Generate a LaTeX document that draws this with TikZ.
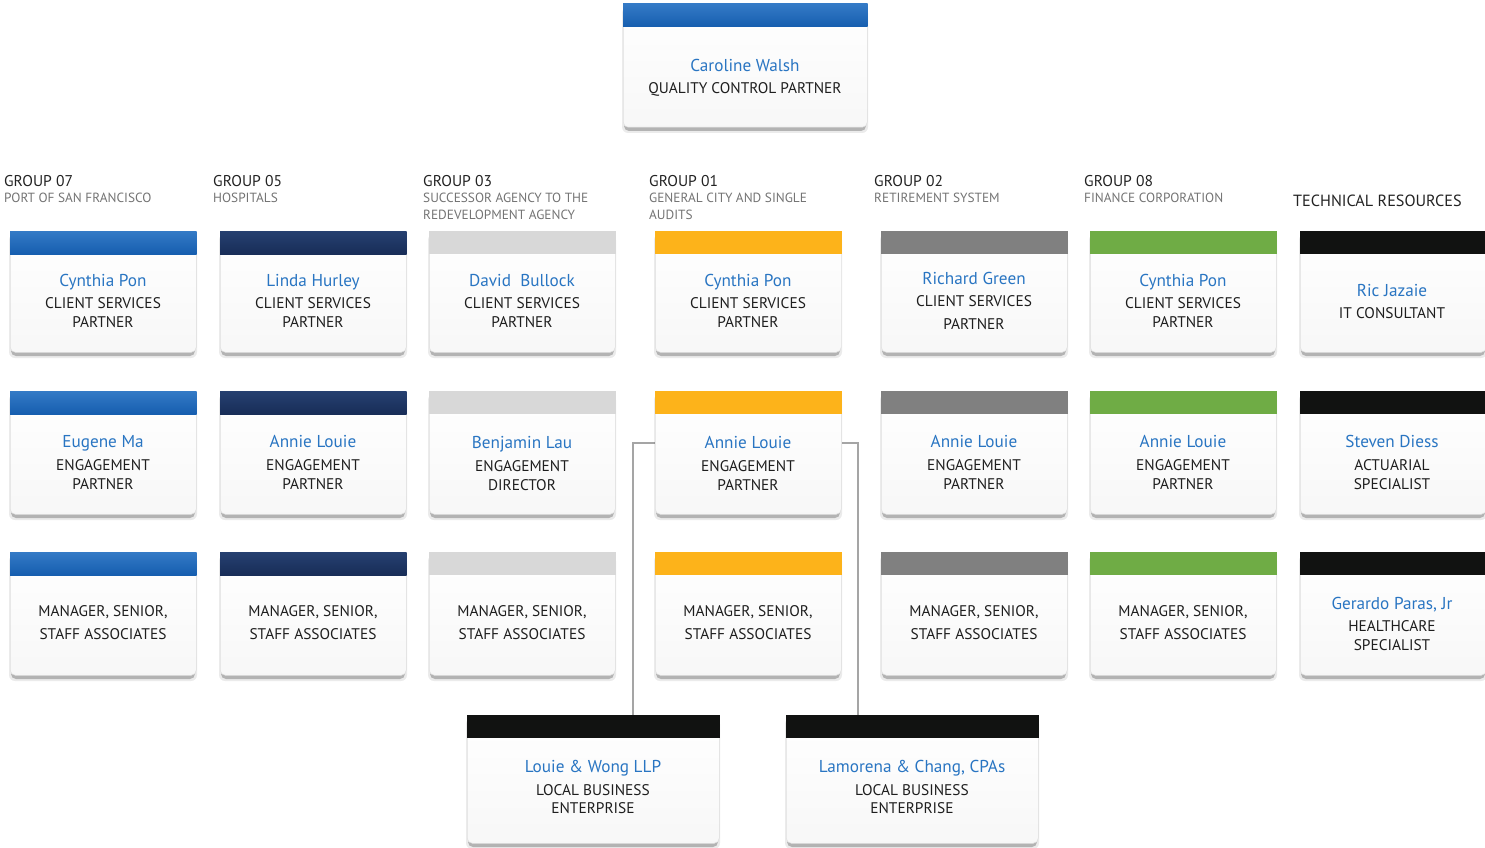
\documentclass[tikz,border=0pt]{standalone}
\usepackage{fontspec}
\setmainfont{PT Sans}
\usetikzlibrary{calc}
\pgfdeclarelayer{bg}
\pgfsetlayers{bg,main}
\definecolor{namecol}{RGB}{41,117,194}
\definecolor{rolecol}{RGB}{30,30,30}
\definecolor{hdcol}{RGB}{35,35,35}
\definecolor{subcol}{RGB}{115,115,115}
\definecolor{connc}{RGB}{165,165,165}
\definecolor{bluetop}{RGB}{52,122,198}
\definecolor{bluebot}{RGB}{22,94,175}
\definecolor{navytop}{RGB}{38,64,112}
\definecolor{navybot}{RGB}{24,45,88}
\definecolor{lgraybar}{RGB}{216,216,216}
\definecolor{orangebar}{RGB}{253,179,26}
\definecolor{graybar}{RGB}{128,128,128}
\definecolor{greenbar}{RGB}{111,172,69}
\definecolor{blackbar}{RGB}{17,18,17}
\tikzset{
  cardbody/.style={draw=black!13, line width=0.5pt, rounded corners=5pt,
    top color=white, middle color=white, bottom color=black!3,
    inner sep=0pt, anchor=north west},
  namelbl/.style={font=\fontsize{17.2}{20}\selectfont, text=namecol, inner sep=0pt, anchor=base},
  rolelbl/.style={font=\fontsize{15.4}{19}\selectfont, text=rolecol, align=center, inner sep=0pt},
  grouphd/.style={font=\fontsize{15.6}{17}\selectfont, text=hdcol, anchor=base west, inner sep=0pt},
  groupsub/.style={font=\fontsize{13.3}{15}\selectfont, text=subcol, anchor=base west, inner sep=0pt},
  conn/.style={draw=connc, line width=1.3pt},
  barblue/.style={top color=bluetop, bottom color=bluebot},
  barnavy/.style={top color=navytop, bottom color=navybot},
  barlgray/.style={fill=lgraybar},
  barorange/.style={fill=orangebar},
  bargray/.style={fill=graybar},
  bargreen/.style={fill=greenbar},
  barblack/.style={fill=blackbar},
}
% id, left x, top y, width, height, bar style
\newcommand{\orgcard}[6]{%
  \fill[black, opacity=0.08, rounded corners=6pt] ({#2-1},{#3+3}) rectangle ({#2+#4+1},{#3+#5+6});
  \fill[black, opacity=0.24, rounded corners=5pt] ({#2+1},{#3+3}) rectangle ({#2+#4-1},{#3+#5+4});
  \node[cardbody, minimum width=#4pt, minimum height=#5pt] (#1) at (#2,#3) {};
  \path[#6] (#1.north west) rectangle ([yshift=-23pt]#1.north east);
}
\begin{document}
\begin{tikzpicture}[x=1pt, y=-1pt]
\useasboundingbox (0,0) rectangle (1485,848);

% ---------- top card
\orgcard{top}{623}{4}{244}{123}{barblue}
\node[namelbl] (topn) at (745,72) {Caroline Walsh};
\node[rolelbl] (topr) at (745,89) {QUALITY CONTROL PARTNER};

% ---------- headers
\node[grouphd] (h1) at (4,186.5) {GROUP 07};
\node[groupsub] (h1a) at (4,202.5) {PORT OF SAN FRANCISCO};
\node[grouphd] (h2) at (213,186.5) {GROUP 05};
\node[groupsub] (h2a) at (213,202.5) {HOSPITALS};
\node[grouphd] (h3) at (423,186.5) {GROUP 03};
\node[groupsub] (h3a) at (423,202.5) {SUCCESSOR AGENCY TO THE};
\node[groupsub] (h3b) at (423,219.5) {REDEVELOPMENT AGENCY};
\node[grouphd] (h4) at (649,186.5) {GROUP 01};
\node[groupsub] (h4a) at (649,202.5) {GENERAL CITY AND SINGLE};
\node[groupsub] (h4b) at (649,219.5) {AUDITS};
\node[grouphd] (h5) at (874,186.5) {GROUP 02};
\node[groupsub] (h5a) at (874,202.5) {RETIREMENT SYSTEM};
\node[grouphd] (h6) at (1084,186.5) {GROUP 08};
\node[groupsub] (h6a) at (1084,202.5) {FINANCE CORPORATION};
\node[grouphd, font=\fontsize{16.2}{18}\selectfont] (h7) at (1293,206) {TECHNICAL RESOURCES};

% ---------- row 1
\orgcard{r1c1}{10}{231}{186}{121}{barblue}
\orgcard{r1c2}{220}{231}{186}{121}{barnavy}
\orgcard{r1c3}{429}{231}{186}{121}{barlgray}
\orgcard{r1c4}{655}{231}{186}{121}{barorange}
\orgcard{r1c5}{881}{231}{186}{121}{bargray}
\orgcard{r1c6}{1090}{231}{186}{121}{bargreen}
\orgcard{r1c7}{1300}{231}{186}{121}{barblack}

\node[namelbl] (n11) at (103,286) {Cynthia Pon};
\node[rolelbl] (t11) at (103,312.5) {CLIENT SERVICES\\PARTNER};
\node[namelbl] (n12) at (313,286) {Linda Hurley};
\node[rolelbl] (t12) at (313,312.5) {CLIENT SERVICES\\PARTNER};
\node[namelbl] (n13) at (522,286) {David\ \ Bullock};
\node[rolelbl] (t13) at (522,312.5) {CLIENT SERVICES\\PARTNER};
\node[namelbl] (n14) at (748,286) {Cynthia Pon};
\node[rolelbl] (t14) at (748,312.5) {CLIENT SERVICES\\PARTNER};
\node[namelbl] (n15) at (974,284) {Richard Green};
\node[rolelbl] (t15) at (974,312.5) {CLIENT SERVICES\\[4pt]PARTNER};
\node[namelbl] (n16) at (1183,286) {Cynthia Pon};
\node[rolelbl] (t16) at (1183,312.5) {CLIENT SERVICES\\PARTNER};
\node[namelbl] (n17) at (1392,296) {Ric Jazaie};
\node[rolelbl] (t17) at (1392,313) {IT CONSULTANT};

% ---------- row 2
\orgcard{r2c1}{10}{391}{186}{123}{barblue}
\orgcard{r2c2}{220}{391}{186}{123}{barnavy}
\orgcard{r2c3}{429}{391}{186}{123}{barlgray}
\orgcard{r2c4}{655}{391}{186}{123}{barorange}
\orgcard{r2c5}{881}{391}{186}{123}{bargray}
\orgcard{r2c6}{1090}{391}{186}{123}{bargreen}
\orgcard{r2c7}{1300}{391}{186}{123}{barblack}

\node[namelbl] (n21) at (103,447) {Eugene Ma};
\node[rolelbl] (t21) at (103,474.5) {ENGAGEMENT\\PARTNER};
\node[namelbl] (n22) at (313,447) {Annie Louie};
\node[rolelbl] (t22) at (313,474.5) {ENGAGEMENT\\PARTNER};
\node[namelbl] (n23) at (522,448) {Benjamin Lau};
\node[rolelbl] (t23) at (522,475.5) {ENGAGEMENT\\DIRECTOR};
\node[namelbl] (n24) at (748,448) {Annie Louie};
\node[rolelbl] (t24) at (748,475.5) {ENGAGEMENT\\PARTNER};
\node[namelbl] (n25) at (974,447) {Annie Louie};
\node[rolelbl] (t25) at (974,474.5) {ENGAGEMENT\\PARTNER};
\node[namelbl] (n26) at (1183,447) {Annie Louie};
\node[rolelbl] (t26) at (1183,474.5) {ENGAGEMENT\\PARTNER};
\node[namelbl] (n27) at (1392,447) {Steven Diess};
\node[rolelbl] (t27) at (1392,474.5) {ACTUARIAL\\SPECIALIST};

% ---------- row 3
\orgcard{r3c1}{10}{552}{186}{123}{barblue}
\orgcard{r3c2}{220}{552}{186}{123}{barnavy}
\orgcard{r3c3}{429}{552}{186}{123}{barlgray}
\orgcard{r3c4}{655}{552}{186}{123}{barorange}
\orgcard{r3c5}{881}{552}{186}{123}{bargray}
\orgcard{r3c6}{1090}{552}{186}{123}{bargreen}
\orgcard{r3c7}{1300}{552}{186}{123}{barblack}

\node[rolelbl] (t31) at (103,623) {MANAGER, SENIOR,\\[4pt]STAFF ASSOCIATES};
\node[rolelbl] (t32) at (313,623) {MANAGER, SENIOR,\\[4pt]STAFF ASSOCIATES};
\node[rolelbl] (t33) at (522,623) {MANAGER, SENIOR,\\[4pt]STAFF ASSOCIATES};
\node[rolelbl] (t34) at (748,623) {MANAGER, SENIOR,\\[4pt]STAFF ASSOCIATES};
\node[rolelbl] (t35) at (974,623) {MANAGER, SENIOR,\\[4pt]STAFF ASSOCIATES};
\node[rolelbl] (t36) at (1183,623) {MANAGER, SENIOR,\\[4pt]STAFF ASSOCIATES};
\node[namelbl] (n37) at (1392,609) {Gerardo Paras, Jr};
\node[rolelbl] (t37) at (1392,635.5) {HEALTHCARE\\SPECIALIST};

% ---------- bottom cards
\orgcard{lw}{467}{715}{252}{128}{barblack}
\orgcard{lc}{786}{715}{252}{128}{barblack}
\node[namelbl] (nlw) at (593,772) {Louie \& Wong LLP};
\node[rolelbl, font=\fontsize{15.4}{18}\selectfont] (tlw) at (593,799) {LOCAL BUSINESS\\ENTERPRISE};
\node[namelbl] (nlc) at (912,772) {Lamorena \& Chang, CPAs};
\node[rolelbl, font=\fontsize{15.4}{18}\selectfont] (tlc) at (912,799) {LOCAL BUSINESS\\ENTERPRISE};

% ---------- connectors
\coordinate (jl) at (633,443);
\coordinate (jr) at (858,443);
\begin{pgfonlayer}{bg}
\draw[conn] (r2c4.west |- jl) -- (jl) -- (jl |- lw.north);
\draw[conn] (r2c4.east |- jr) -- (jr) -- (jr |- lc.north);
\end{pgfonlayer}
\end{tikzpicture}
\end{document}
